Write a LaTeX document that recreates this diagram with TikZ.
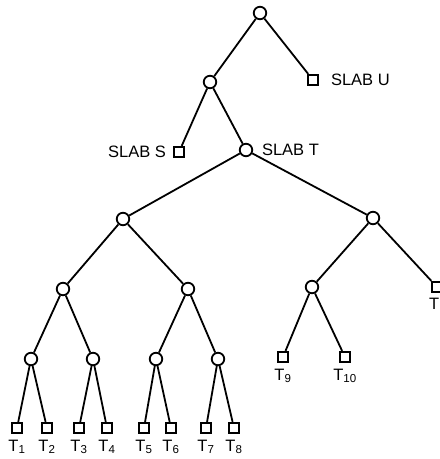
\documentclass[tikz,border=0pt]{standalone}
\usepackage{fontspec}
\setmainfont{Liberation Sans}
\begin{document}
\begin{tikzpicture}[x=1pt,y=-1pt,line width=1.8pt,
  knot/.style={draw,circle,inner sep=0pt,minimum size=12.5pt},
  slab/.style={draw,rectangle,inner sep=0pt,minimum size=10.5pt},
  lab/.style={font=\fontsize{16.5}{16.5}\selectfont,inner sep=2pt},
  tlab/.style={lab,yshift=-3pt}]
  \useasboundingbox (0,0) rectangle (440,459);
  % upper levels
  \node[knot] (r) at (260,13) {};
  \node[knot] (a) at (210,82) {};
  \node[slab,label={[lab,label distance=9pt]right:SLAB U}] (u) at (313,80) {};
  \node[slab,label={[lab,label distance=4pt]left:SLAB S}] (s) at (179,152) {};
  \node[knot,label={[lab,label distance=6pt]right:SLAB T}] (t) at (246,150) {};
  \draw (r) -- (a);
  \draw (r) -- (u);
  \draw (a) -- (s);
  \draw (a) -- (t);
  % tree under slab T
  \node[knot] (l) at (123,219) {};
  \node[knot] (m) at (373,218) {};
  \node[knot] (l1) at (63,289) {};
  \node[knot] (l2) at (188,289) {};
  \node[knot] (m1) at (312,287) {};
  \node[slab] (m2) at (437,287) {};
  \node[lab,anchor=north east,inner sep=0pt] (m2lab) at (440,297) {T};
  \draw (t) -- (l);
  \draw (t) -- (m);
  \draw (l) -- (l1);
  \draw (l) -- (l2);
  \draw (m) -- (m1);
  \draw (m) -- (m2);
  \foreach \n/\x/\p in {k1/31/l1,k2/93/l1,k3/156/l2,k4/218/l2}{
    \node[knot] (\n) at (\x,359) {};
    \draw (\p) -- (\n);
  }
  \node[slab,label={[tlab]below:T\textsubscript{9}}] (t9) at (283,357) {};
  \node[slab,label={[tlab]below:T\textsubscript{10}}] (t10) at (345,357) {};
  \draw (m1) -- (t9);
  \draw (m1) -- (t10);
  % leaves
  \foreach \i/\x/\p in {1/17/k1,2/47/k1,3/79/k2,4/107/k2,5/144/k3,6/171/k3,7/206/k4,8/234/k4}{
    \node[slab,label={[tlab]below:T\textsubscript{\i}}] (t\i) at (\x,428) {};
    \draw (\p) -- (t\i);
  }
\end{tikzpicture}
\end{document}
